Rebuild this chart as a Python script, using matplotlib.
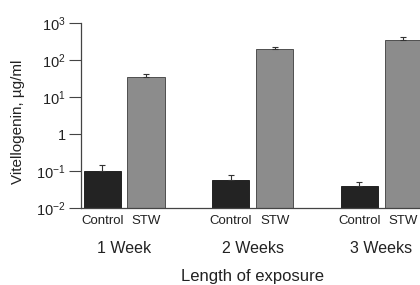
import numpy as np
import matplotlib
matplotlib.use("Agg")
import matplotlib.pyplot as plt

plt.rcParams['font.family'] = ['Liberation Sans Narrow', 'Liberation Sans', 'DejaVu Sans']
plt.rcParams['mathtext.fontset'] = 'custom'
plt.rcParams['mathtext.rm'] = 'Liberation Sans'
plt.rcParams['mathtext.it'] = 'Liberation Sans'
plt.rcParams['mathtext.bf'] = 'Liberation Sans'

groups = ["1 Week", "2 Weeks", "3 Weeks"]
treatments = ["Control", "STW"]
control = [0.10, 0.057, 0.039]
control_err = [0.05, 0.024, 0.014]
stw = [36, 199, 357]
stw_err = [6, 30, 66]
yticks = [1e-2, 1e-1, 1, 1e1, 1e2, 1e3]
ylabels = ["10$^{-2}$", "10$^{-1}$", "1", "10$^{1}$", "10$^{2}$", "10$^{3}$"]

fig = plt.figure(figsize=(4.2, 2.85), dpi=100)
ax = fig.add_axes([0.193, 0.269, 0.807, 0.649])

x = np.arange(len(groups))
off = 0.171
w = 0.29
ax.bar(x - off, control, w, color='#232323', edgecolor='#111111', linewidth=0.6,
       yerr=[np.zeros(3), control_err], error_kw=dict(ecolor='#333333', elinewidth=0.8, capsize=2.5, capthick=0.8))
ax.bar(x + off, stw, w, color='#8c8c8c', edgecolor='#3c3c3c', linewidth=0.6,
       yerr=[np.zeros(3), stw_err], error_kw=dict(ecolor='#333333', elinewidth=0.8, capsize=2.5, capthick=0.8))

ax.set_yscale('log')
ax.set_ylim(1e-2, 1e3)
ax.set_xlim(-0.335, 2.30)
ax.set_yticks(yticks)
ax.set_yticklabels(ylabels, fontsize=10.5, color='#222222')
ax.minorticks_off()
ax.tick_params(axis='y', length=9, width=0.8, color='#444444', pad=2)

xt = np.concatenate([x - off, x + off])
ax.set_xticks(xt)
ax.set_xticklabels(["Control"] * 3 + ["STW"] * 3, fontsize=9.5, color='#222222')
ax.tick_params(axis='x', length=0, pad=5)

for i, g in enumerate(groups):
    ax.text(x[i], -0.215, g, transform=ax.get_xaxis_transform(), ha='center', va='center',
            fontsize=11.5, color='#222222')
ax.text(1.0, -0.37, "Length of exposure", transform=ax.get_xaxis_transform(), ha='center',
        va='center', fontsize=12, color='#222222')

ax.set_ylabel("Vitellogenin, µg/ml", fontsize=11, color='#222222')
ax.yaxis.set_label_coords(-0.165, 0.47)

ax.spines['top'].set_visible(False)
ax.spines['right'].set_visible(False)
ax.spines['left'].set_color('#444444')
ax.spines['bottom'].set_color('#444444')
ax.spines['left'].set_linewidth(0.9)
ax.spines['bottom'].set_linewidth(0.9)

fig.savefig("out.png", dpi=100)
